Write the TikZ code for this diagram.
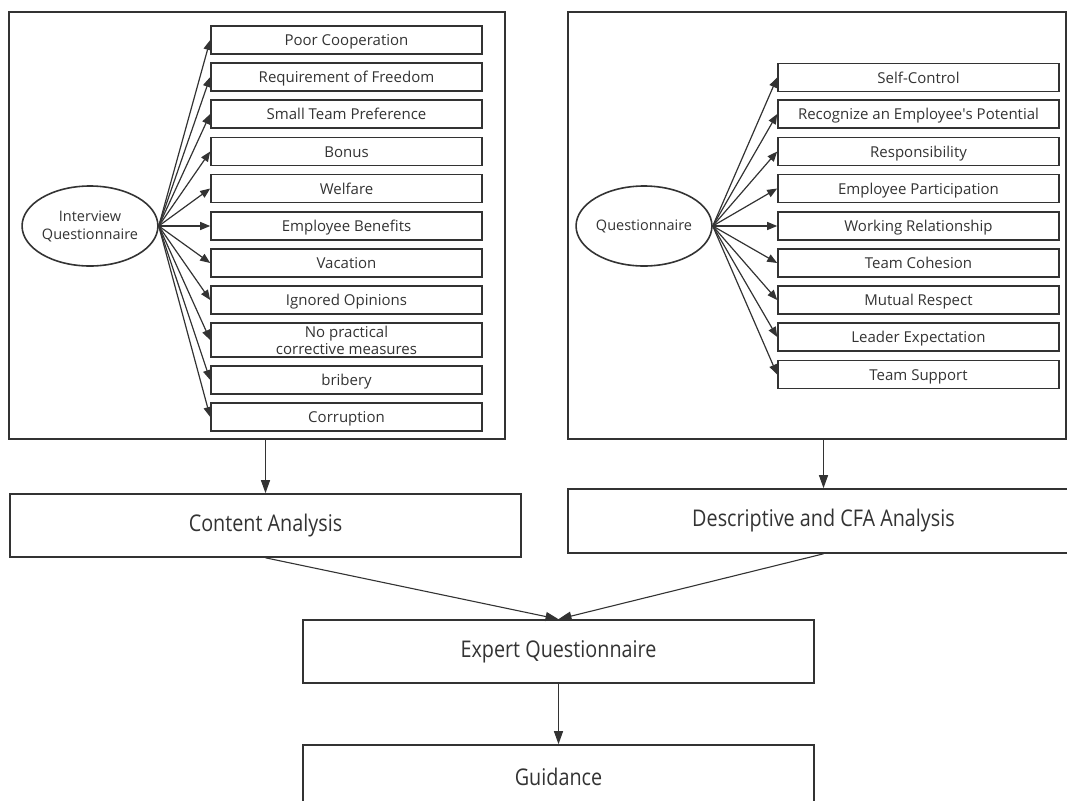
\documentclass[tikz,border=0pt]{standalone}
\usepackage{fontspec}
\setmainfont{Open Sans}
\usetikzlibrary{shapes,arrows.meta,positioning,calc}
\definecolor{ink}{HTML}{333333}

\begin{document}
\begin{tikzpicture}[x=1pt, y=-1pt,
    itembase/.style={draw=ink, line width=1.6pt, minimum height=28pt, inner sep=1pt, text=ink, font=\fontsize{15}{16}\selectfont},
    itembox/.style={itembase, text height=12.5pt, text depth=1.5pt},
    srcnode/.style={draw=ink, line width=1.6pt, ellipse, minimum height=80pt, inner sep=0pt, align=center, text=ink, font=\fontsize{14.5}{18}\selectfont},
    bigbox/.style={draw=ink, line width=1.5pt, minimum width=496pt, minimum height=427pt, inner sep=0pt},
    stagebox/.style={draw=ink, line width=1.6pt, minimum width=511pt, minimum height=63pt, inner sep=0pt, text=ink, font=\fontsize{23}{25}\selectfont},
    fan/.style={draw=ink, line width=1.2pt, -{Triangle[length=10pt,width=8pt]}},
    flow/.style={draw=ink, line width=1.1pt, -{Triangle[length=13pt,width=9pt]}}]
    \useasboundingbox (0,0) rectangle (1067,800);

    % Outer frames
    \node[bigbox] (lbox) at (257,225.5) {};
    \node[bigbox, minimum width=498pt] (rbox) at (817,225.5) {};

    % Interview side
    \node[srcnode, minimum width=124pt] (iq) at (90,226) {Interview\\Questionnaire};
    \node[itembox, minimum width=271pt] (l1) at (346.5,40) {Poor Cooperation};
    \node[itembox, minimum width=271pt] (l2) at (346.5,77) {Requirement of Freedom};
    \node[itembox, minimum width=271pt] (l3) at (346.5,114) {Small Team Preference};
    \node[itembox, minimum width=271pt] (l4) at (346.5,151.5) {Bonus};
    \node[itembox, minimum width=271pt] (l5) at (346.5,188.5) {Welfare};
    \node[itembox, minimum width=271pt] (l6) at (346.5,226) {Employee Benefits};
    \node[itembox, minimum width=271pt] (l7) at (346.5,263) {Vacation};
    \node[itembox, minimum width=271pt] (l8) at (346.5,300) {Ignored Opinions};
    \node[itembase, minimum width=271pt, minimum height=34pt, inner sep=0pt, align=center, font=\fontsize{15}{17}\selectfont] (l9) at (346.5,340) {No practical\\corrective measures};
    \node[itembox, minimum width=271pt] (l10) at (346.5,380) {bribery};
    \node[itembox, minimum width=271pt] (l11) at (346.5,417) {Corruption};

    \draw[fan] (iq.east) -- (l1.west);
    \draw[fan] (iq.east) -- (l2.west);
    \draw[fan] (iq.east) -- (l3.west);
    \draw[fan] (iq.east) -- (l4.west);
    \draw[fan] (iq.east) -- (l5.west);
    \draw[fan] (iq.east) -- (l6.west);
    \draw[fan] (iq.east) -- (l7.west);
    \draw[fan] (iq.east) -- (l8.west);
    \draw[fan] (iq.east) -- (l9.west);
    \draw[fan] (iq.east) -- (l10.west);
    \draw[fan] (iq.east) -- (l11.west);

    % Questionnaire side
    \node[srcnode, minimum width=128pt] (qn) at (644,226) {Questionnaire};
    \node[itembox, minimum width=281pt] (r1) at (918.5,77.5) {Self-Control};
    \node[itembox, minimum width=281pt] (r2) at (918.5,114) {Recognize an Employee\textquotesingle s Potential};
    \node[itembox, minimum width=281pt] (r3) at (918.5,151.5) {Responsibility};
    \node[itembox, minimum width=281pt] (r4) at (918.5,188.5) {Employee Participation};
    \node[itembox, minimum width=281pt] (r5) at (918.5,226) {Working Relationship};
    \node[itembox, minimum width=281pt] (r6) at (918.5,263) {Team Cohesion};
    \node[itembox, minimum width=281pt] (r7) at (918.5,300) {Mutual Respect};
    \node[itembox, minimum width=281pt] (r8) at (918.5,337) {Leader Expectation};
    \node[itembox, minimum width=281pt] (r9) at (918.5,374.5) {Team Support};

    \draw[fan] (qn.east) -- (r1.west);
    \draw[fan] (qn.east) -- (r2.west);
    \draw[fan] (qn.east) -- (r3.west);
    \draw[fan] (qn.east) -- (r4.west);
    \draw[fan] (qn.east) -- (r5.west);
    \draw[fan] (qn.east) -- (r6.west);
    \draw[fan] (qn.east) -- (r7.west);
    \draw[fan] (qn.east) -- (r8.west);
    \draw[fan] (qn.east) -- (r9.west);

    % Analysis stages
    \node[stagebox] (ca) at (265.5,525.5) {\scalebox{0.86}[1]{Content Analysis}};
    \node[stagebox, minimum height=64pt] (da) at (823.5,521) {\scalebox{0.86}[1]{Descriptive and CFA Analysis}};
    \node[stagebox] (eq) at (558.5,651.5) {\scalebox{0.86}[1]{Expert Questionnaire}};
    \node[stagebox] (gd) at (558.5,776.5) {\scalebox{0.86}[1]{Guidance}};

    \draw[flow] (lbox.south -| ca.north) -- (ca.north);
    \draw[flow] (rbox.south -| da.north) -- (da.north);
    \draw[flow] (ca.south) -- (eq.north);
    \draw[flow] (da.south) -- (eq.north);
    \draw[flow] (eq.south) -- (gd.north);
\end{tikzpicture}
\end{document}
